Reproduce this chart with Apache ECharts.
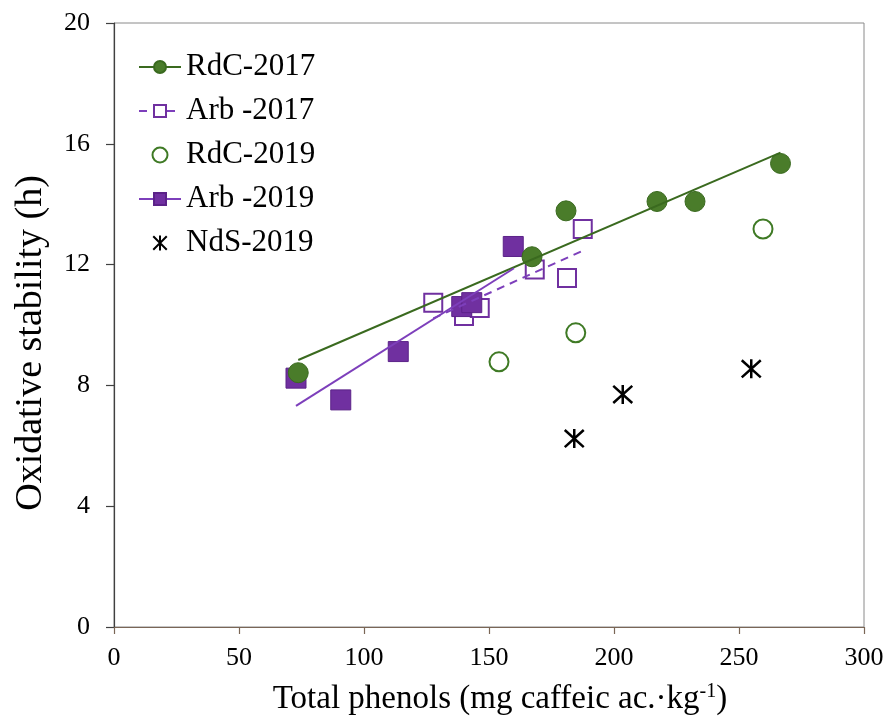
<!DOCTYPE html>
<html>
<head>
<meta charset="utf-8">
<script src="https://cdn.jsdelivr.net/npm/echarts@6/dist/echarts.min.js"></script>
<style>
  html, body { margin: 0; padding: 0; background: #fff; }
  #chart { width: 890px; height: 721px; }
</style>
</head>
<body>
<div id="chart"></div>
<script>
// Total phenols (mg caffeic ac./kg) vs oxidative stability (h)
const seriesNames = ['RdC-2017', 'Arb -2017', 'RdC-2019', 'Arb -2019', 'NdS-2019'];

const rdc2017Phenols   = [73.7, 167.2, 180.8, 217.2, 232.4, 266.6];
const rdc2017Stability = [8.42, 12.26, 13.78, 14.09, 14.09, 15.35];

const arb2017Phenols   = [127.7, 140.0, 146.3, 168.3, 181.2, 187.5];
const arb2017Stability = [10.74, 10.30, 10.56, 11.84, 11.56, 13.18];

const rdc2019Phenols   = [154.0, 184.7, 259.6];
const rdc2019Stability = [8.78, 9.74, 13.18];

const arb2019Phenols   = [72.8, 90.7, 113.7, 139.1, 143.1, 159.7];
const arb2019Stability = [8.24, 7.52, 9.12, 10.61, 10.74, 12.60];

const nds2019Phenols   = [184.1, 203.5, 254.9];
const nds2019Stability = [6.24, 7.70, 8.55];

// Linear trend lines (end points)
const rdc2017TrendX = [73.7, 266.6];
const rdc2017TrendY = [8.84, 15.71];
const arb2017TrendX = [127.7, 187.5];
const arb2017TrendY = [10.22, 12.46];
const arb2019TrendX = [72.8, 160.0];
const arb2019TrendY = [7.32, 11.88];

const xTicks = [0, 300, 50];   // min, max, step
const yTicks = [0, 20, 4];

const pairs = (xs, ys) => xs.map((x, i) => [x, ys[i]]);

const GREEN = '#4a7c2a';
const GREEN_DARK = '#3a6a1f';
const PURPLE = '#7030a0';
const PURPLE_LINE = '#7d3fbb';
const SERIF = '"Liberation Serif", "Times New Roman", serif';
const ASTERISK = 'path://M10,0L10,20M1,1L19,19M19,1L1,19';

const chart = echarts.init(document.getElementById('chart'), null, { renderer: 'canvas' });

chart.setOption({
  animation: false,
  backgroundColor: '#fff',
  grid: {
    left: 114, right: 26, top: 23, bottom: 94,
    show: true, borderColor: '#8a8a8a', borderWidth: 1, backgroundColor: 'transparent'
  },
  legend: {
    orient: 'vertical',
    left: 138, top: 51,
    padding: 0,
    itemWidth: 42, itemHeight: 15, itemGap: 12,
    data: seriesNames,
    selectedMode: false,
    textStyle: { fontFamily: SERIF, fontSize: 31, color: '#000', lineHeight: 32, padding: [0, 0, 0, 0] }
  },
  xAxis: {
    type: 'value',
    min: xTicks[0], max: xTicks[1], interval: xTicks[2],
    name: 'Total phenols (mg caffeic ac.·kg{sup|-1})',
    nameLocation: 'middle',
    nameGap: 55,
    nameTextStyle: {
      fontFamily: SERIF, fontSize: 33, color: '#000',
      padding: [0, 0, 0, 22],
      rich: { sup: { fontFamily: SERIF, fontSize: 20, color: '#000', verticalAlign: 'top', padding: [0, 0, 14, 0] } }
    },
    axisLine: { show: true, onZero: false, lineStyle: { color: '#7a6656', width: 1.2 } },
    axisTick: { show: true, inside: false, length: 7, lineStyle: { color: '#7a6656', width: 1.2 } },
    axisLabel: { fontFamily: SERIF, fontSize: 26, color: '#000', margin: 18 },
    splitLine: { show: false }
  },
  yAxis: {
    type: 'value',
    min: yTicks[0], max: yTicks[1], interval: yTicks[2],
    name: 'Oxidative stability (h)',
    nameLocation: 'middle',
    nameGap: 64,
    nameRotate: 90,
    nameTextStyle: { fontFamily: SERIF, fontSize: 38, color: '#000', padding: [0, 36, 0, 0] },
    axisLine: { show: true, onZero: false, lineStyle: { color: '#404040', width: 1.2 } },
    axisTick: { show: true, inside: false, length: 8, lineStyle: { color: '#404040', width: 1.2 } },
    axisLabel: { fontFamily: SERIF, fontSize: 26, color: '#000', margin: 24 },
    splitLine: { show: false }
  },
  series: [
    // trend lines (listed first so the legend shows line + marker)
    {
      name: seriesNames[0], type: 'line', z: 6,
      data: pairs(rdc2017TrendX, rdc2017TrendY),
      symbol: 'circle', showSymbol: false,
      lineStyle: { color: GREEN_DARK, width: 2 },
      itemStyle: { color: GREEN, borderColor: GREEN_DARK, borderWidth: 1 }
    },
    {
      name: seriesNames[1], type: 'line', z: 6,
      data: pairs(arb2017TrendX, arb2017TrendY),
      symbol: 'rect', showSymbol: false,
      lineStyle: { color: PURPLE_LINE, width: 2, type: [8, 6] },
      itemStyle: { color: '#fff', borderColor: PURPLE, borderWidth: 2 }
    },
    {
      name: seriesNames[3], type: 'line', z: 6,
      data: pairs(arb2019TrendX, arb2019TrendY),
      symbol: 'rect', showSymbol: false,
      lineStyle: { color: PURPLE_LINE, width: 2 },
      itemStyle: { color: PURPLE, borderColor: '#5b2288', borderWidth: 1 }
    },
    // markers
    {
      name: seriesNames[2], type: 'scatter', z: 3,
      data: pairs(rdc2019Phenols, rdc2019Stability),
      symbol: 'circle', symbolSize: 19,
      itemStyle: { color: '#fff', borderColor: '#3f7a25', borderWidth: 2, opacity: 1 }
    },
    {
      name: seriesNames[4], type: 'scatter', z: 3,
      data: pairs(nds2019Phenols, nds2019Stability),
      symbol: ASTERISK, symbolSize: 19,
      itemStyle: { color: '#000', borderColor: '#000', borderWidth: 2.5, opacity: 1 }
    },
    {
      name: seriesNames[1], type: 'scatter', z: 2,
      data: pairs(arb2017Phenols, arb2017Stability),
      symbol: 'rect', symbolSize: 18,
      itemStyle: { color: '#fff', borderColor: PURPLE, borderWidth: 2, opacity: 1 }
    },
    {
      name: seriesNames[3], type: 'scatter', z: 3,
      data: pairs(arb2019Phenols, arb2019Stability),
      symbol: 'rect', symbolSize: 20,
      itemStyle: { color: PURPLE, borderColor: '#5b2288', borderWidth: 1, opacity: 1 }
    },
    {
      name: seriesNames[0], type: 'scatter', z: 4,
      data: pairs(rdc2017Phenols, rdc2017Stability),
      symbol: 'circle', symbolSize: 20,
      itemStyle: { color: GREEN, borderColor: GREEN_DARK, borderWidth: 1, opacity: 1 }
    }
  ]
});
</script>
</body>
</html>
